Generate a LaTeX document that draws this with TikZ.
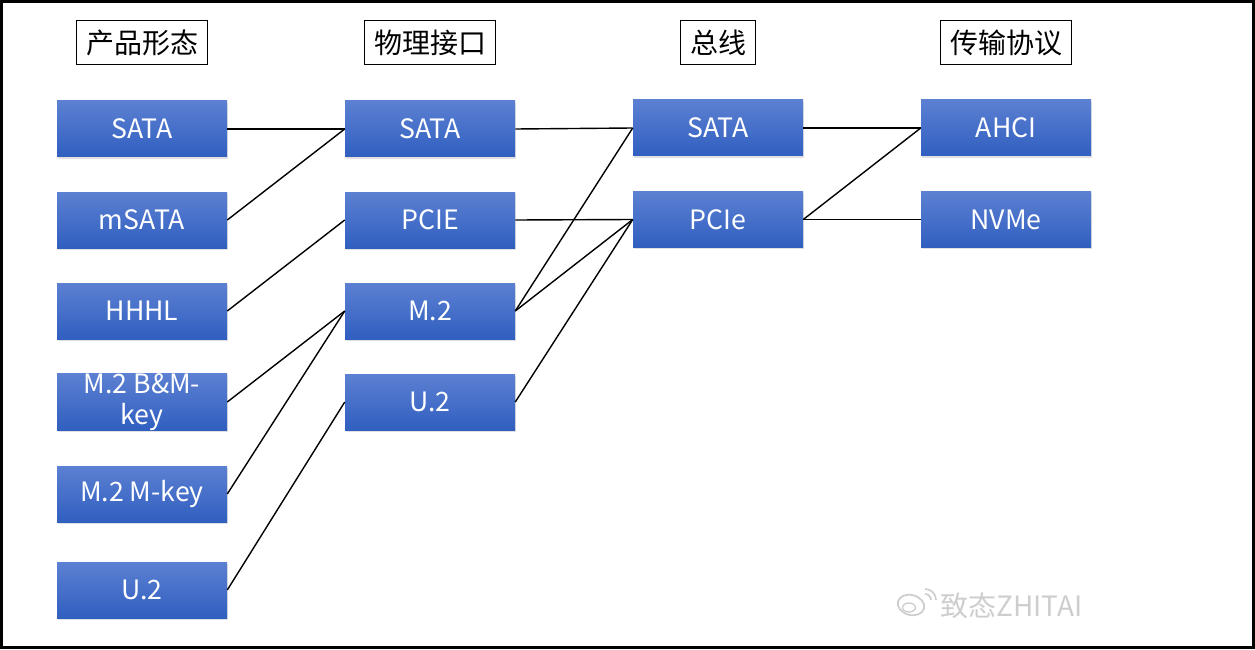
\documentclass[tikz,border=0pt]{standalone}
\usepackage{fontspec}
\setmainfont{Noto Sans CJK SC}
\usetikzlibrary{shadows}
\definecolor{boxtop}{RGB}{92,128,210}
\definecolor{boxbot}{RGB}{48,95,192}
\definecolor{wmgray}{RGB}{205,205,205}
\tikzset{
  blk/.style={rectangle, minimum width=127.5pt, minimum height=42pt, inner sep=0pt,
    top color=boxtop, bottom color=boxbot, text=white, align=center,
    font=\fontsize{20}{23}\selectfont,
    drop shadow={shadow xshift=0.8pt, shadow yshift=-1.2pt, opacity=0.3, fill=black!40}},
  hd/.style={draw, line width=0.8pt, minimum height=33pt, inner xsep=7pt,
    font=\fontsize{21}{24}\selectfont},
  wire/.style={line width=1.05pt}
}
\begin{document}
\begin{tikzpicture}[x=0.75pt,y=-0.75pt]
\useasboundingbox (0,0) rectangle (1255,649);
\draw[line width=2.2pt] (1.5,1.5) rectangle (1253.5,647.5);
% headers
\node[hd] (hd0) at (142,42.5){产品形态};
\node[hd] (hd1) at (430,42.5){物理接口};
\node[hd] (hd2) at (718,42.5){总线};
\node[hd] (hd3) at (1006,42.5){传输协议};
% product forms
\node[blk] (form0) at (142,129){SATA};
\node[blk] (form1) at (142,220){mSATA};
\node[blk] (form2) at (142,311){HHHL};
\node[blk] (form3) at (142,402){M.2 B\&M-\\key};
\node[blk] (form4) at (142,494){M.2 M-key};
\node[blk] (form5) at (142,590){U.2};
% physical ports
\node[blk] (port0) at (430,129){SATA};
\node[blk] (port1) at (430,220){PCIE};
\node[blk] (port2) at (430,311){M.2};
\node[blk] (port3) at (430,402){U.2};
% buses
\node[blk] (bus0) at (718,128){SATA};
\node[blk] (bus1) at (718,219.5){PCIe};
% protocols
\node[blk] (prot0) at (1006,128){AHCI};
\node[blk] (prot1) at (1006,219.5){NVMe};
\draw[wire](form0.east) -- (port0.west);
\draw[wire](form1.east) -- (port0.west);
\draw[wire](form2.east) -- (port1.west);
\draw[wire](form3.east) -- (port2.west);
\draw[wire](form4.east) -- (port2.west);
\draw[wire](form5.east) -- (port3.west);
\draw[wire](port0.east) -- (bus0.west);
\draw[wire](port1.east) -- (bus1.west);
\draw[wire](port2.east) -- (bus0.west);
\draw[wire](port2.east) -- (bus1.west);
\draw[wire](port3.east) -- (bus1.west);
\draw[wire](bus0.east) -- (prot0.west);
\draw[wire](bus1.east) -- (prot0.west);
\draw[wire](bus1.east) -- (prot1.west);
% watermark
\draw[wmgray, line width=1.3pt, rotate around={-15:(911,605)}] (911,605) ellipse (13.5 and 10);
\draw[wmgray, line width=1pt] (909,607.5) ellipse (6.5 and 4.5);
\draw[wmgray, line width=1.3pt] (925,594) arc (-90:0:6);
\draw[wmgray, line width=1.3pt] (925,589) arc (-90:0:11);
\node[text=wmgray, font=\fontsize{21}{24}\selectfont, anchor=west, inner sep=0pt] (wm) at (940,606){致态ZHITAI};
\end{tikzpicture}
\end{document}
